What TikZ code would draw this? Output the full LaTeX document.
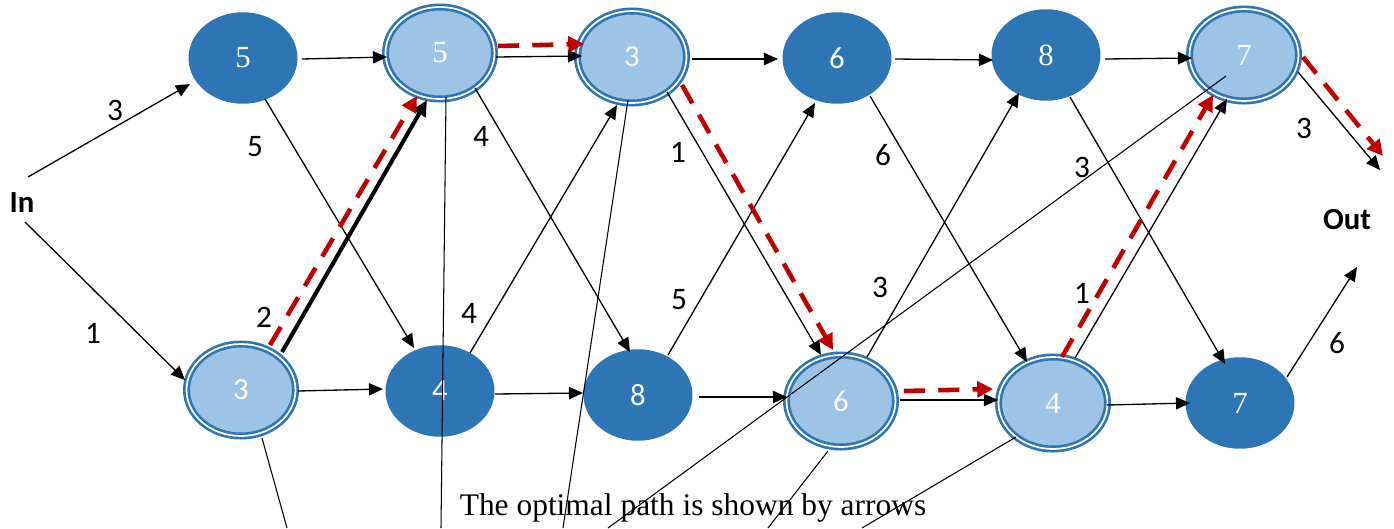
\documentclass[tikz,border=0pt]{standalone}
\usepackage{fontspec}
\setmainfont{Liberation Serif}
\newfontfamily\calfont{Carlito}
\usetikzlibrary{shapes.geometric,arrows.meta,calc}
\definecolor{dkblue}{HTML}{2E75B6}
\definecolor{ltblue}{HTML}{9DC3E6}
\definecolor{rimblue}{HTML}{2E75B6}
\definecolor{pathred}{HTML}{C00000}
\begin{document}
\begin{tikzpicture}[x=0.02cm,y=-0.02cm,
 every node/.style={inner sep=0pt, font=\fontsize{17.5}{20}\selectfont},
 dk/.style={ellipse, fill=dkblue, minimum width=2.18cm, minimum height=1.83cm, text=white},
 lt/.style={ellipse, fill=ltblue, draw=rimblue, line width=1.5pt, double=white, double distance=1pt, minimum width=2.18cm, minimum height=1.84cm, text=white},
 sf/.style={font=\calfont\fontsize{17.5}{20}\selectfont},
 bsf/.style={font=\calfont\bfseries\fontsize{17.5}{20}\selectfont, text=black},
 wt/.style={font=\calfont\fontsize{17.8}{20}\selectfont, text=black},
 arr/.style={draw=black, line width=0.75pt, -{Triangle[length=8pt,width=7pt]}},
 heavyarr/.style={draw=black, line width=2.3pt, -{Triangle[length=9pt,width=8pt]}},
 redarr/.style={draw=pathred, line width=2.6pt, dash pattern=on 12pt off 7.5pt, -{Triangle[length=9pt,width=9pt]}},
 leader/.style={draw=black, line width=0.6pt}
]
\useasboundingbox (0,0) rectangle (1394,528);
\fill[white] (0,0) rectangle (1394,528);

% nodes
\node[dk] (T1) at (243,58) {5};
\node[lt] (T2) at (440,53) {5};
\node[lt,sf] (T3) at (632,57) {3};
\node[dk,sf] (T4) at (837,58) {6};
\node[dk] (T5) at (1046,55) {8};
\node[lt] (T6) at (1244,55) {7};
\node[lt,sf] (B1) at (241,390) {3};
\node[dk,sf] (B2) at (440,391) {4};
\node[dk,sf] (B3) at (638,395) {8};
\node[lt,sf] (B4) at (841,401) {6};
\node[lt] (B5) at (1053,403) {4};
\node[dk] (B6) at (1240,403) {7};
\node[bsf] (In) at (22,203) {In};
\node[bsf] (Out) at (1347,220) {Out};

% weights
\node[wt] (w1) at (115,110) {3};
\node[wt] (w2) at (93,333) {1};
\node[wt] (w3) at (255,147) {5};
\node[wt] (w4) at (264,317) {2};
\node[wt] (w5) at (481,136) {4};
\node[wt] (w6) at (469,313) {4};
\node[wt] (w7) at (678,152) {1};
\node[wt] (w8) at (679,300) {5};
\node[wt] (w9) at (883,155) {6};
\node[wt] (w10) at (880,287) {3};
\node[wt] (w11) at (1082,167) {3};
\node[wt] (w12) at (1082,293) {1};
\node[wt] (w13) at (1304,128) {3};
\node[wt] (w14) at (1337,343) {6};

% caption
\node[anchor=base, font=\fontsize{17.9}{20}\selectfont, text=black] (cap) at (693,515) {The optimal path is shown by arrows};

% input edges
\draw[arr] ($(In)+(6,-26)$) -- ($(T1)+(-53,26)$);
\draw[arr] ($(In)+(3,19)$) -- ($(B1)+(-56,-10)$);

% horizontal top
\draw[arr] ($(T1)+(59,1)$) -- ($(T2)+(-53,4)$);
\draw[arr] ($(T2)+(56,4)$) -- ($(T3)+(-50,-1)$);
\draw[arr] ($(T3)+(60,2)$) -- ($(T4)+(-59,1)$);
\draw[arr] ($(T4)+(58,1)$) -- ($(T5)+(-53,5)$);
\draw[arr] ($(T5)+(59,4)$) -- ($(T6)+(-52,3)$);

% horizontal bottom
\draw[arr] ($(B1)+(57,1)$) -- ($(B2)+(-57,-2)$);
\draw[arr] ($(B2)+(55,3)$) -- ($(B3)+(-55,-2)$);
\draw[arr] ($(B3)+(61,2)$) -- ($(B4)+(-54,-4)$);
\draw[arr] ($(B4)+(59,-1)$) -- ($(B5)+(-55,-3)$);
\draw[arr] ($(B5)+(54,2)$) -- ($(B6)+(-50,0)$);

% diagonals down
\draw[arr] ($(T1)+(22,41)$) -- ($(B2)+(-26,-43)$);
\draw[arr] ($(T2)+(35,35)$) -- ($(B3)+(-8,-43)$);
\draw[arr] ($(T3)+(35,35)$) -- ($(B4)+(-20,-46)$);
\draw[arr] ($(T4)+(33,38)$) -- ($(B5)+(-26,-41)$);
\draw[arr] ($(T5)+(24,42)$) -- ($(B6)+(-15,-39)$);
\draw[arr] ($(T6)+(54,17)$) -- ($(Out)+(33,-50)$);

% diagonals up
\draw[heavyarr] ($(B1)+(41,-38)$) -- ($(T2)+(-13,47)$);
\draw[arr] ($(B2)+(30,-38)$) -- ($(T3)+(-15,48)$);
\draw[arr] ($(B3)+(30,-40)$) -- ($(T4)+(-22,45)$);
\draw[arr] ($(B4)+(26,-44)$) -- ($(T5)+(-27,38)$);
\draw[arr] ($(B5)+(22,-45)$) -- ($(T6)+(-17,44)$);
\draw[arr] ($(B6)+(47,-26)$) -- ($(Out)+(10,47)$);

% optimal path (red dashed)
\draw[redarr] ($(B1)+(29,-45)$) -- ($(T2)+(-23,43)$);
\draw[redarr] ($(T2)+(58,-7)$) -- ($(T3)+(-48,-13)$);
\draw[redarr] ($(T3)+(50,28)$) -- ($(B4)+(-8,-51)$);
\draw[redarr] ($(B4)+(63,-10)$) -- ($(B5)+(-60,-14)$);
\draw[redarr] ($(B5)+(9,-46)$) -- ($(T6)+(-31,40)$);
\draw[redarr] ($(T6)+(59,2)$) -- ($(Out)+(36,-64)$);

% leader lines
\coordinate (e1) at (287,528);
\coordinate (e2) at (441,528);
\coordinate (e3) at (563,528);
\coordinate (e4) at (608,528);
\coordinate (e5) at (768,528);
\coordinate (e6) at (862,528);
\draw[leader] ($(B1)+(21,48)$) -- (e1);
\draw[leader] ($(T2)+(6,44)$) -- (e2);
\draw[leader] ($(T3)+(-4,43)$) -- (e3);
\draw[leader] ($(T6)+(-18,21)$) -- (e4);
\draw[leader] ($(B4)+(-13,50)$) -- (e5);
\draw[leader] ($(B5)+(-37,34)$) -- (e6);
\end{tikzpicture}
\end{document}
